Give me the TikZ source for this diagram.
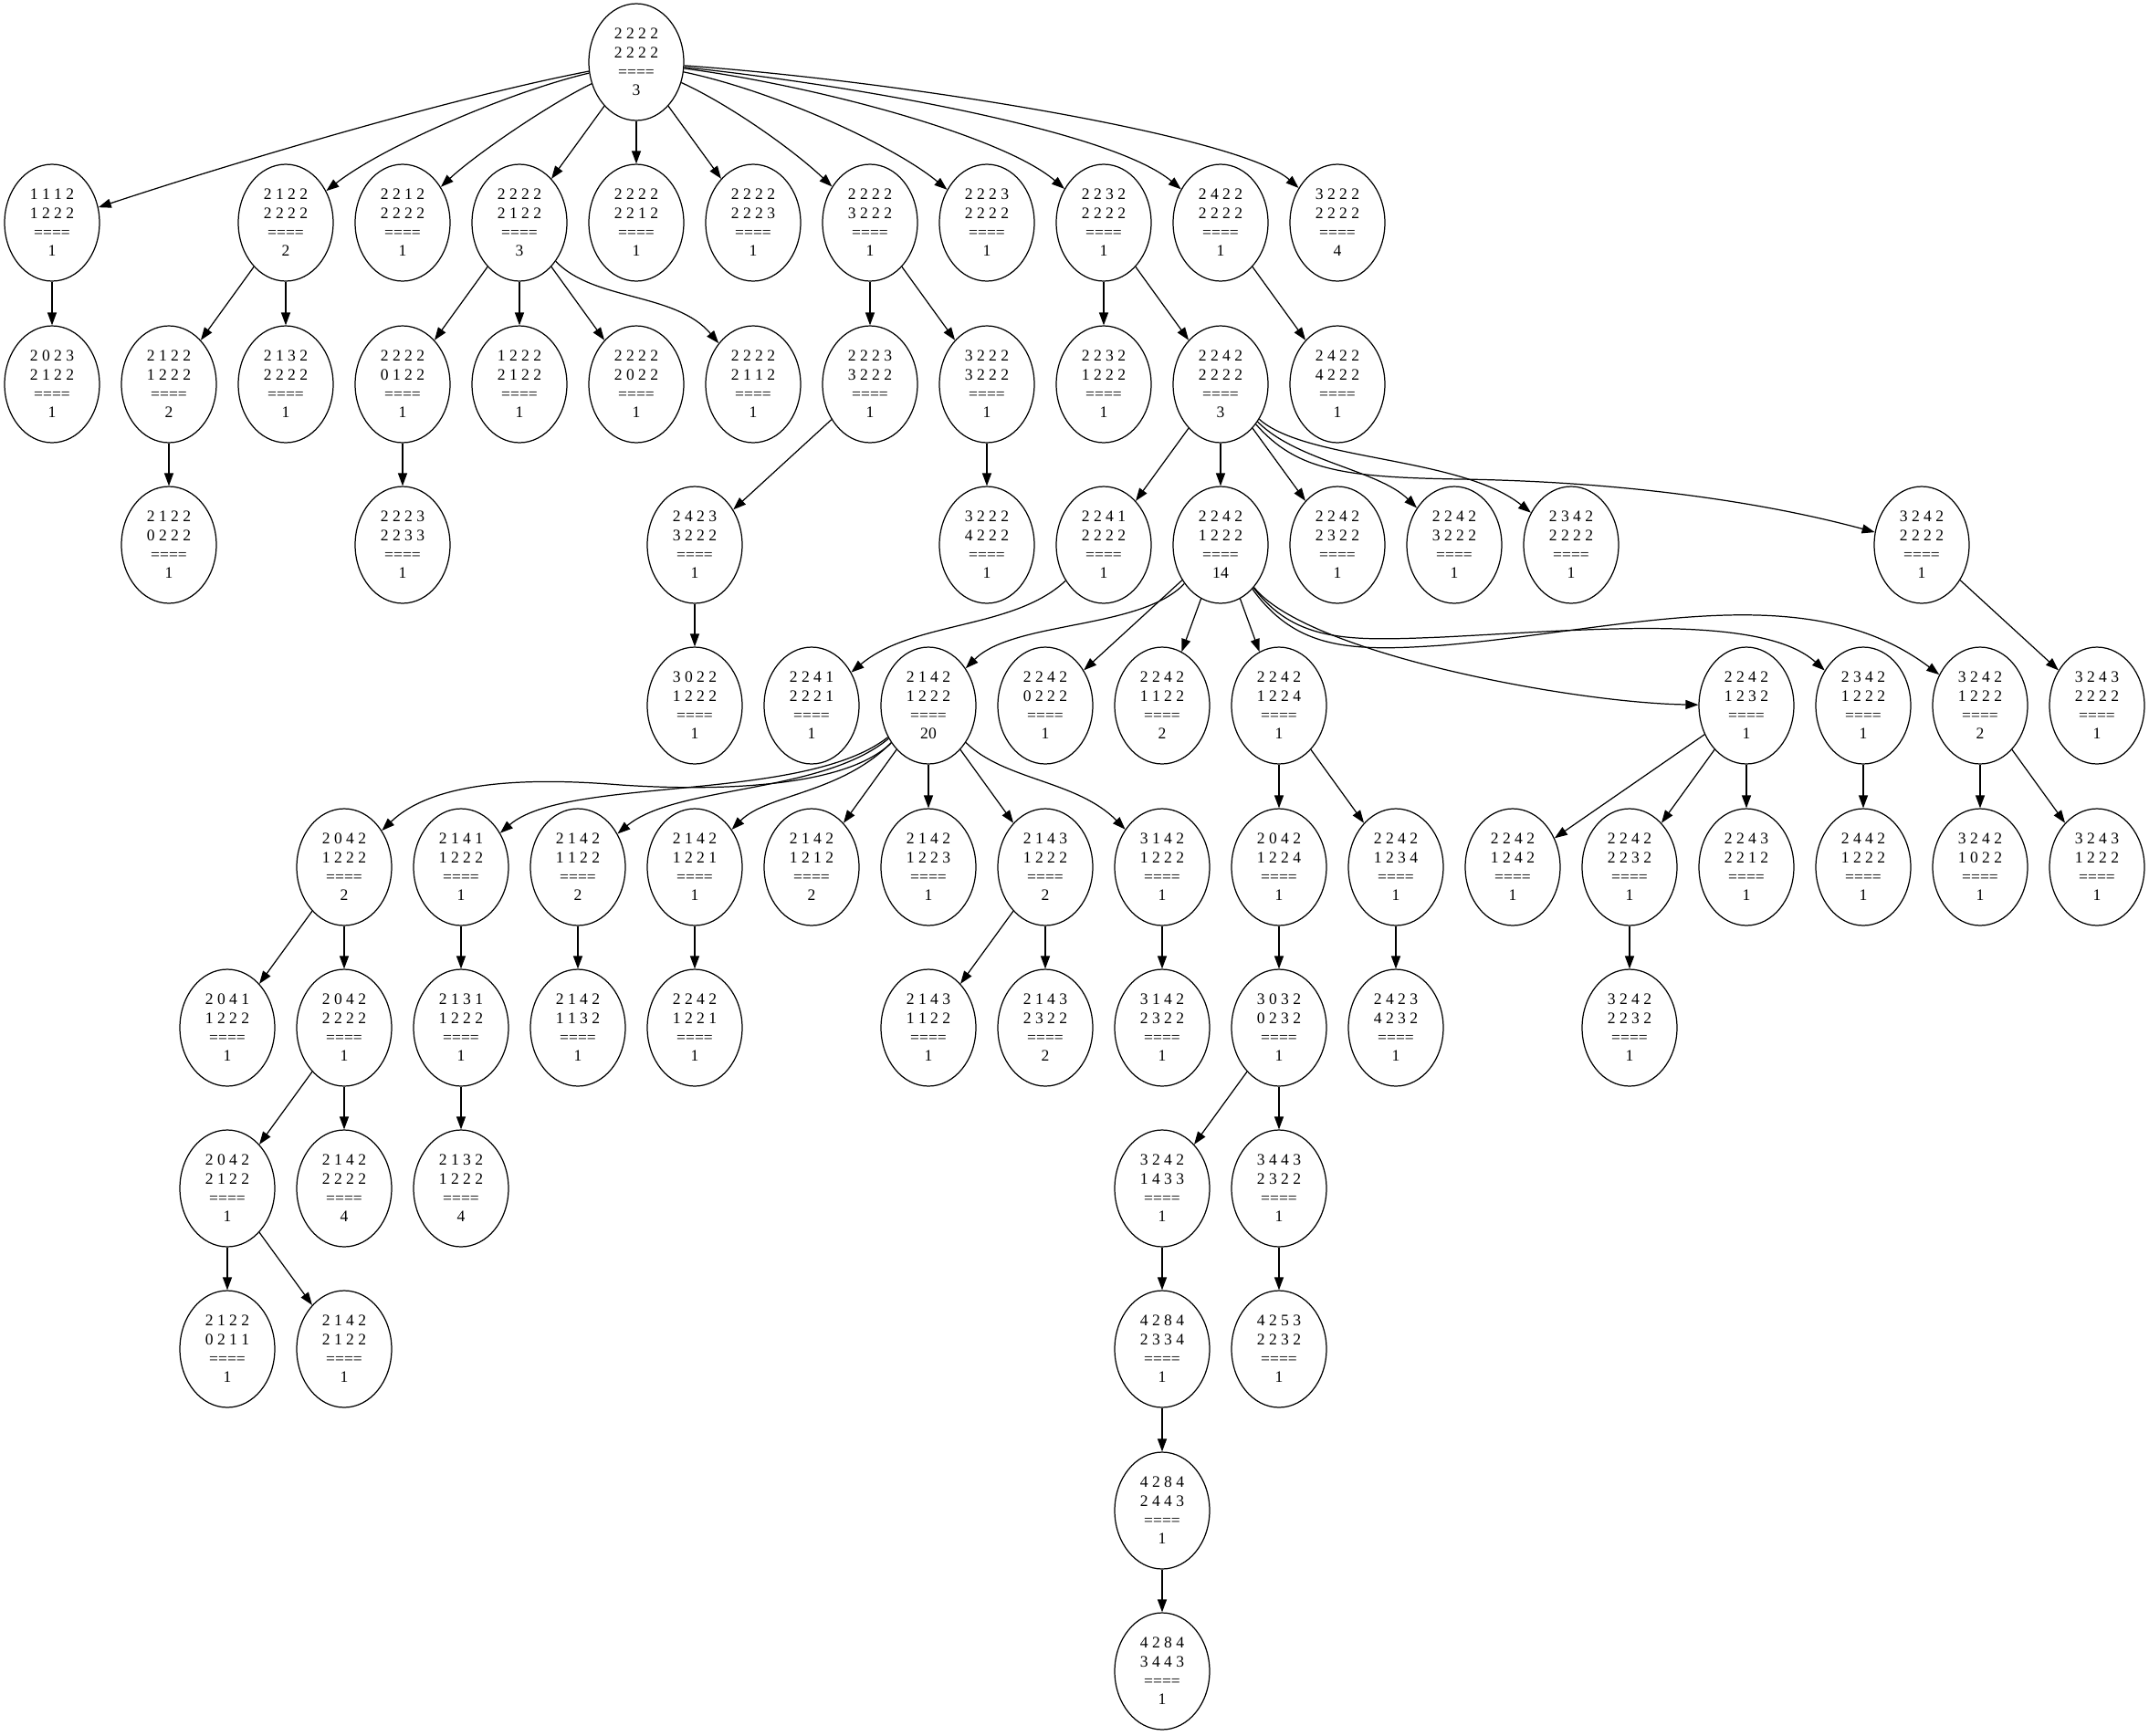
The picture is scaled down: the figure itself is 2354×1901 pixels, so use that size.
\documentclass[tikz,border=0pt]{standalone}
\usepackage{fontspec}
\setmainfont{Liberation Serif}
\usetikzlibrary{shapes.geometric,arrows.meta}

\begin{document}
\begin{tikzpicture}[x=0.02cm,y=-0.02cm]
  \tikzset{StateStyle/.style = {
      shape = ellipse,
      draw,
      line width = 0.7pt,
      minimum width = 2.08cm,
      minimum height = 2.56cm,
      inner sep = 0pt,
      align = center,
      font = \fontsize{10}{11.8}\selectfont},
    EdgeStyle/.style = {
      line width = 0.7pt,
      -{Triangle[length=0.28cm,width=0.2cm]}}}
  \useasboundingbox (0,0) rectangle (2354,1901);
  % level 0
  \node[StateStyle] (s0) at (697,68) {2 2 2 2\\2 2 2 2\\====\\3};
  % level 1
  \node[StateStyle] (a1) at (57,244) {1 1 1 2\\1 2 2 2\\====\\1};
  \node[StateStyle] (a2) at (313,244) {2 1 2 2\\2 2 2 2\\====\\2};
  \node[StateStyle] (a3) at (441,244) {2 2 1 2\\2 2 2 2\\====\\1};
  \node[StateStyle] (a4) at (569,244) {2 2 2 2\\2 1 2 2\\====\\3};
  \node[StateStyle] (a5) at (697,244) {2 2 2 2\\2 2 1 2\\====\\1};
  \node[StateStyle] (a6) at (825,244) {2 2 2 2\\2 2 2 3\\====\\1};
  \node[StateStyle] (a7) at (953,244) {2 2 2 2\\3 2 2 2\\====\\1};
  \node[StateStyle] (a8) at (1081,244) {2 2 2 3\\2 2 2 2\\====\\1};
  \node[StateStyle] (a9) at (1209,244) {2 2 3 2\\2 2 2 2\\====\\1};
  \node[StateStyle] (a10) at (1337,244) {2 4 2 2\\2 2 2 2\\====\\1};
  \node[StateStyle] (a11) at (1465,244) {3 2 2 2\\2 2 2 2\\====\\4};
  % level 2
  \node[StateStyle] (b1) at (57,421) {2 0 2 3\\2 1 2 2\\====\\1};
  \node[StateStyle] (b2) at (185,421) {2 1 2 2\\1 2 2 2\\====\\2};
  \node[StateStyle] (b3) at (313,421) {2 1 3 2\\2 2 2 2\\====\\1};
  \node[StateStyle] (b4) at (441,421) {2 2 2 2\\0 1 2 2\\====\\1};
  \node[StateStyle] (b5) at (569,421) {1 2 2 2\\2 1 2 2\\====\\1};
  \node[StateStyle] (b6) at (697,421) {2 2 2 2\\2 0 2 2\\====\\1};
  \node[StateStyle] (b7) at (825,421) {2 2 2 2\\2 1 1 2\\====\\1};
  \node[StateStyle] (b8) at (953,421) {2 2 2 3\\3 2 2 2\\====\\1};
  \node[StateStyle] (b9) at (1081,421) {3 2 2 2\\3 2 2 2\\====\\1};
  \node[StateStyle] (b10) at (1209,421) {2 2 3 2\\1 2 2 2\\====\\1};
  \node[StateStyle] (b11) at (1337,421) {2 2 4 2\\2 2 2 2\\====\\3};
  \node[StateStyle] (b12) at (1465,421) {2 4 2 2\\4 2 2 2\\====\\1};
  % level 3
  \node[StateStyle] (c1) at (185,597) {2 1 2 2\\0 2 2 2\\====\\1};
  \node[StateStyle] (c2) at (441,597) {2 2 2 3\\2 2 3 3\\====\\1};
  \node[StateStyle] (c3) at (761,597) {2 4 2 3\\3 2 2 2\\====\\1};
  \node[StateStyle] (c4) at (1081,597) {3 2 2 2\\4 2 2 2\\====\\1};
  \node[StateStyle] (c5) at (1209,597) {2 2 4 1\\2 2 2 2\\====\\1};
  \node[StateStyle] (c6) at (1337,597) {2 2 4 2\\1 2 2 2\\====\\14};
  \node[StateStyle] (c7) at (1465,597) {2 2 4 2\\2 3 2 2\\====\\1};
  \node[StateStyle] (c8) at (1593,597) {2 2 4 2\\3 2 2 2\\====\\1};
  \node[StateStyle] (c9) at (1721,597) {2 3 4 2\\2 2 2 2\\====\\1};
  \node[StateStyle] (c10) at (2105,597) {3 2 4 2\\2 2 2 2\\====\\1};
  % level 4
  \node[StateStyle] (d1) at (761,773) {3 0 2 2\\1 2 2 2\\====\\1};
  \node[StateStyle] (d2) at (889,773) {2 2 4 1\\2 2 2 1\\====\\1};
  \node[StateStyle] (d3) at (1017,773) {2 1 4 2\\1 2 2 2\\====\\20};
  \node[StateStyle] (d4) at (1145,773) {2 2 4 2\\0 2 2 2\\====\\1};
  \node[StateStyle] (d5) at (1273,773) {2 2 4 2\\1 1 2 2\\====\\2};
  \node[StateStyle] (d6) at (1401,773) {2 2 4 2\\1 2 2 4\\====\\1};
  \node[StateStyle] (d7) at (1913,773) {2 2 4 2\\1 2 3 2\\====\\1};
  \node[StateStyle] (d8) at (2041,773) {2 3 4 2\\1 2 2 2\\====\\1};
  \node[StateStyle] (d9) at (2169,773) {3 2 4 2\\1 2 2 2\\====\\2};
  \node[StateStyle] (d10) at (2297,773) {3 2 4 3\\2 2 2 2\\====\\1};
  % level 5
  \node[StateStyle] (e1) at (377,950) {2 0 4 2\\1 2 2 2\\====\\2};
  \node[StateStyle] (e2) at (505,950) {2 1 4 1\\1 2 2 2\\====\\1};
  \node[StateStyle] (e3) at (633,950) {2 1 4 2\\1 1 2 2\\====\\2};
  \node[StateStyle] (e4) at (761,950) {2 1 4 2\\1 2 2 1\\====\\1};
  \node[StateStyle] (e5) at (889,950) {2 1 4 2\\1 2 1 2\\====\\2};
  \node[StateStyle] (e6) at (1017,950) {2 1 4 2\\1 2 2 3\\====\\1};
  \node[StateStyle] (e7) at (1145,950) {2 1 4 3\\1 2 2 2\\====\\2};
  \node[StateStyle] (e8) at (1273,950) {3 1 4 2\\1 2 2 2\\====\\1};
  \node[StateStyle] (e9) at (1401,950) {2 0 4 2\\1 2 2 4\\====\\1};
  \node[StateStyle] (e10) at (1529,950) {2 2 4 2\\1 2 3 4\\====\\1};
  \node[StateStyle] (e11) at (1657,950) {2 2 4 2\\1 2 4 2\\====\\1};
  \node[StateStyle] (e12) at (1785,950) {2 2 4 2\\2 2 3 2\\====\\1};
  \node[StateStyle] (e13) at (1913,950) {2 2 4 3\\2 2 1 2\\====\\1};
  \node[StateStyle] (e14) at (2041,950) {2 4 4 2\\1 2 2 2\\====\\1};
  \node[StateStyle] (e15) at (2169,950) {3 2 4 2\\1 0 2 2\\====\\1};
  \node[StateStyle] (e16) at (2297,950) {3 2 4 3\\1 2 2 2\\====\\1};
  % level 6
  \node[StateStyle] (f1) at (249,1126) {2 0 4 1\\1 2 2 2\\====\\1};
  \node[StateStyle] (f2) at (377,1126) {2 0 4 2\\2 2 2 2\\====\\1};
  \node[StateStyle] (f3) at (505,1126) {2 1 3 1\\1 2 2 2\\====\\1};
  \node[StateStyle] (f4) at (633,1126) {2 1 4 2\\1 1 3 2\\====\\1};
  \node[StateStyle] (f5) at (761,1126) {2 2 4 2\\1 2 2 1\\====\\1};
  \node[StateStyle] (f6) at (1017,1126) {2 1 4 3\\1 1 2 2\\====\\1};
  \node[StateStyle] (f7) at (1145,1126) {2 1 4 3\\2 3 2 2\\====\\2};
  \node[StateStyle] (f8) at (1273,1126) {3 1 4 2\\2 3 2 2\\====\\1};
  \node[StateStyle] (f9) at (1401,1126) {3 0 3 2\\0 2 3 2\\====\\1};
  \node[StateStyle] (f10) at (1529,1126) {2 4 2 3\\4 2 3 2\\====\\1};
  \node[StateStyle] (f11) at (1785,1126) {3 2 4 2\\2 2 3 2\\====\\1};
  % level 7
  \node[StateStyle] (g1) at (249,1302) {2 0 4 2\\2 1 2 2\\====\\1};
  \node[StateStyle] (g2) at (377,1302) {2 1 4 2\\2 2 2 2\\====\\4};
  \node[StateStyle] (g3) at (505,1302) {2 1 3 2\\1 2 2 2\\====\\4};
  \node[StateStyle] (g4) at (1273,1302) {3 2 4 2\\1 4 3 3\\====\\1};
  \node[StateStyle] (g5) at (1401,1302) {3 4 4 3\\2 3 2 2\\====\\1};
  % level 8 and below
  \node[StateStyle] (h1) at (249,1478) {2 1 2 2\\0 2 1 1\\====\\1};
  \node[StateStyle] (h2) at (377,1478) {2 1 4 2\\2 1 2 2\\====\\1};
  \node[StateStyle] (h3) at (1273,1478) {4 2 8 4\\2 3 3 4\\====\\1};
  \node[StateStyle] (h4) at (1401,1478) {4 2 5 3\\2 2 3 2\\====\\1};
  \node[StateStyle] (i1) at (1273,1655) {4 2 8 4\\2 4 4 3\\====\\1};
  \node[StateStyle] (j1) at (1273,1831) {4 2 8 4\\3 4 4 3\\====\\1};

  % edges from the root
  \draw[EdgeStyle] (s0) .. controls (490,108) and (250,180) .. (a1);
  \draw[EdgeStyle] (s0) .. controls (560,100) and (420,160) .. (a2);
  \draw[EdgeStyle] (s0) .. controls (600,115) and (520,170) .. (a3);
  \draw[EdgeStyle] (s0) -- (a4);
  \draw[EdgeStyle] (s0) -- (a5);
  \draw[EdgeStyle] (s0) -- (a6);
  \draw[EdgeStyle] (s0) .. controls (800,115) and (870,165) .. (a7);
  \draw[EdgeStyle] (s0) .. controls (850,100) and (980,160) .. (a8);
  \draw[EdgeStyle] (s0) .. controls (900,95) and (1100,150) .. (a9);
  \draw[EdgeStyle] (s0) .. controls (950,95) and (1220,145) .. (a10);
  \draw[EdgeStyle] (s0) .. controls (1000,90) and (1360,150) .. (a11);
  % level 1 -> 2
  \draw[EdgeStyle] (a1) -- (b1);
  \draw[EdgeStyle] (a2) -- (b2);
  \draw[EdgeStyle] (a2) -- (b3);
  \draw[EdgeStyle] (a4) -- (b4);
  \draw[EdgeStyle] (a4) -- (b5);
  \draw[EdgeStyle] (a4) -- (b6);
  \draw[EdgeStyle] (a4) .. controls (650,330) and (740,320) .. (b7);
  \draw[EdgeStyle] (a7) -- (b8);
  \draw[EdgeStyle] (a7) -- (b9);
  \draw[EdgeStyle] (a9) -- (b10);
  \draw[EdgeStyle] (a9) -- (b11);
  \draw[EdgeStyle] (a10) -- (b12);
  % level 2 -> 3
  \draw[EdgeStyle] (b2) -- (c1);
  \draw[EdgeStyle] (b4) -- (c2);
  \draw[EdgeStyle] (b8) -- (c3);
  \draw[EdgeStyle] (b9) -- (c4);
  \draw[EdgeStyle] (b11) -- (c5);
  \draw[EdgeStyle] (b11) -- (c6);
  \draw[EdgeStyle] (b11) -- (c7);
  \draw[EdgeStyle] (b11) .. controls (1420,505) and (1510,515) .. (c8);
  \draw[EdgeStyle] (b11) .. controls (1430,505) and (1600,500) .. (c9);
  \draw[EdgeStyle] (b11) .. controls (1420,515) and (1470,523) .. (1600,525)
                          .. controls (1800,528) and (1950,555) .. (c10);
  % level 3 -> 4
  \draw[EdgeStyle] (c3) -- (d1);
  \draw[EdgeStyle] (c5) .. controls (1110,690) and (1000,680) .. (d2);
  \draw[EdgeStyle] (c6) .. controls (1250,690) and (1110,680) .. (d3);
  \draw[EdgeStyle] (c6) -- (d4);
  \draw[EdgeStyle] (c6) -- (d5);
  \draw[EdgeStyle] (c6) -- (d6);
  \draw[EdgeStyle] (c6) .. controls (1430,715) and (1720,770) .. (d7);
  \draw[EdgeStyle] (c6) .. controls (1420,705) and (1480,702) .. (1580,698)
                         .. controls (1740,690) and (1930,672) .. (d8);
  \draw[EdgeStyle] (c6) .. controls (1420,712) and (1480,714) .. (1580,707)
                         .. controls (1780,690) and (1980,630) .. (d9);
  \draw[EdgeStyle] (c10) -- (d10);
  % level 4 -> 5
  \draw[EdgeStyle] (d3) .. controls (930,860) and (800,868) .. (680,860)
                         .. controls (560,850) and (470,860) .. (e1);
  \draw[EdgeStyle] (d3) .. controls (880,880) and (620,850) .. (e2);
  \draw[EdgeStyle] (d3) .. controls (900,870) and (740,860) .. (e3);
  \draw[EdgeStyle] (d3) .. controls (920,870) and (840,870) .. (e4);
  \draw[EdgeStyle] (d3) -- (e5);
  \draw[EdgeStyle] (d3) -- (e6);
  \draw[EdgeStyle] (d3) -- (e7);
  \draw[EdgeStyle] (d3) .. controls (1100,855) and (1180,855) .. (e8);
  \draw[EdgeStyle] (d6) -- (e9);
  \draw[EdgeStyle] (d6) -- (e10);
  \draw[EdgeStyle] (d7) -- (e11);
  \draw[EdgeStyle] (d7) -- (e12);
  \draw[EdgeStyle] (d7) -- (e13);
  \draw[EdgeStyle] (d8) -- (e14);
  \draw[EdgeStyle] (d9) -- (e15);
  \draw[EdgeStyle] (d9) -- (e16);
  % level 5 -> 6
  \draw[EdgeStyle] (e1) -- (f1);
  \draw[EdgeStyle] (e1) -- (f2);
  \draw[EdgeStyle] (e2) -- (f3);
  \draw[EdgeStyle] (e3) -- (f4);
  \draw[EdgeStyle] (e4) -- (f5);
  \draw[EdgeStyle] (e7) -- (f6);
  \draw[EdgeStyle] (e7) -- (f7);
  \draw[EdgeStyle] (e8) -- (f8);
  \draw[EdgeStyle] (e9) -- (f9);
  \draw[EdgeStyle] (e10) -- (f10);
  \draw[EdgeStyle] (e12) -- (f11);
  % level 6 -> 7
  \draw[EdgeStyle] (f2) -- (g1);
  \draw[EdgeStyle] (f2) -- (g2);
  \draw[EdgeStyle] (f3) -- (g3);
  \draw[EdgeStyle] (f9) -- (g4);
  \draw[EdgeStyle] (f9) -- (g5);
  % deeper levels
  \draw[EdgeStyle] (g1) -- (h1);
  \draw[EdgeStyle] (g1) -- (h2);
  \draw[EdgeStyle] (g4) -- (h3);
  \draw[EdgeStyle] (g5) -- (h4);
  \draw[EdgeStyle] (h3) -- (i1);
  \draw[EdgeStyle] (i1) -- (j1);
\end{tikzpicture}
\end{document}
